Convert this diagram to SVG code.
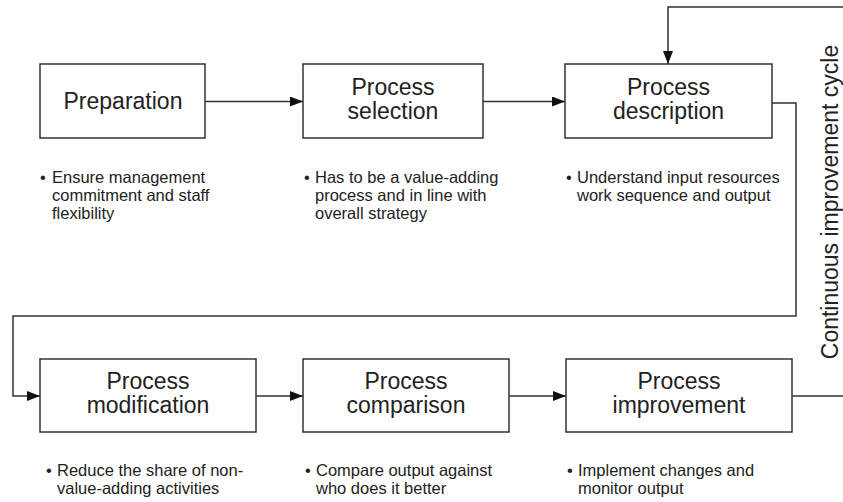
<svg xmlns="http://www.w3.org/2000/svg" width="843" height="502" viewBox="0 0 843 502">
  <style>
    .box { fill: #ffffff; stroke: #333333; stroke-width: 1.5; }
    .label { font-family: "Liberation Sans", Arial, sans-serif; font-size: 23px; fill: #222222; text-anchor: middle; }
    .note { font-family: "Liberation Sans", Arial, sans-serif; font-size: 16.5px; fill: #222222; }
    .wire { fill: none; stroke: #333333; stroke-width: 1.5; }
    .side { font-family: "Liberation Sans", Arial, sans-serif; font-size: 23px; fill: #222222; text-anchor: middle; }
  </style>
  <defs>
    <marker id="arrow" viewBox="0 0 13 10" refX="13" refY="5" markerWidth="13" markerHeight="10" markerUnits="userSpaceOnUse" orient="auto">
      <path d="M0,0 L13,5 L0,10 Z" fill="#111111"/>
    </marker>
  </defs>

  <rect width="843" height="502" fill="#ffffff"/>

  <!-- connectors -->
  <g id="connectors">
    <line class="wire" x1="205" y1="101.5" x2="303" y2="101.5" marker-end="url(#arrow)"/>
    <line class="wire" x1="483" y1="101.5" x2="565" y2="101.5" marker-end="url(#arrow)"/>
    <polyline class="wire" points="772,103 796,103 796,316 13,316 13,396 40,396" marker-end="url(#arrow)"/>
    <line class="wire" x1="256" y1="396" x2="303" y2="396" marker-end="url(#arrow)"/>
    <line class="wire" x1="509" y1="396" x2="566" y2="396" marker-end="url(#arrow)"/>
    <line class="wire" x1="792" y1="396" x2="843" y2="396"/>
    <polyline class="wire" points="843,7 668,7 668,64" marker-end="url(#arrow)"/>
  </g>

  <!-- top row -->
  <g id="preparation">
    <rect class="box" x="40" y="64" width="165" height="74"/>
    <text class="label" x="123" y="109">Preparation</text>
  </g>
  <g id="process-selection">
    <rect class="box" x="303" y="64" width="180" height="74"/>
    <text class="label" x="393" y="95">Process</text>
    <text class="label" x="393" y="119">selection</text>
  </g>
  <g id="process-description">
    <rect class="box" x="565" y="64" width="207" height="74"/>
    <text class="label" x="668.5" y="95">Process</text>
    <text class="label" x="668.5" y="119">description</text>
  </g>

  <!-- bottom row -->
  <g id="process-modification">
    <rect class="box" x="40" y="359" width="216" height="73"/>
    <text class="label" x="148" y="389">Process</text>
    <text class="label" x="148" y="413">modification</text>
  </g>
  <g id="process-comparison">
    <rect class="box" x="303" y="359" width="206" height="73"/>
    <text class="label" x="406" y="389">Process</text>
    <text class="label" x="406" y="413">comparison</text>
  </g>
  <g id="process-improvement">
    <rect class="box" x="566" y="359" width="226" height="73"/>
    <text class="label" x="679" y="389">Process</text>
    <text class="label" x="679" y="413">improvement</text>
  </g>

  <!-- notes under the top row -->
  <g id="note-preparation" class="note">
    <text x="40" y="183">•</text>
    <text x="52" y="183">Ensure management</text>
    <text x="52" y="201">commitment and staff</text>
    <text x="52" y="219">flexibility</text>
  </g>
  <g id="note-selection" class="note">
    <text x="304" y="183">•</text>
    <text x="315" y="183">Has to be a value-adding</text>
    <text x="315" y="201">process and in line with</text>
    <text x="315" y="219">overall strategy</text>
  </g>
  <g id="note-description" class="note">
    <text x="566" y="183">•</text>
    <text x="577" y="183">Understand input resources</text>
    <text x="577" y="201">work sequence and output</text>
  </g>

  <!-- notes under the bottom row -->
  <g id="note-modification" class="note">
    <text x="46" y="476">•</text>
    <text x="57" y="476">Reduce the share of non-</text>
    <text x="57" y="494">value-adding activities</text>
  </g>
  <g id="note-comparison" class="note">
    <text x="305" y="476">•</text>
    <text x="316" y="476">Compare output against</text>
    <text x="316" y="494">who does it better</text>
  </g>
  <g id="note-improvement" class="note">
    <text x="567" y="476">•</text>
    <text x="578" y="476">Implement changes and</text>
    <text x="578" y="494">monitor output</text>
  </g>

  <!-- cycle caption -->
  <g id="cycle-caption">
    <text class="side" transform="translate(838,202) rotate(-90)">Continuous improvement cycle</text>
  </g>
</svg>
